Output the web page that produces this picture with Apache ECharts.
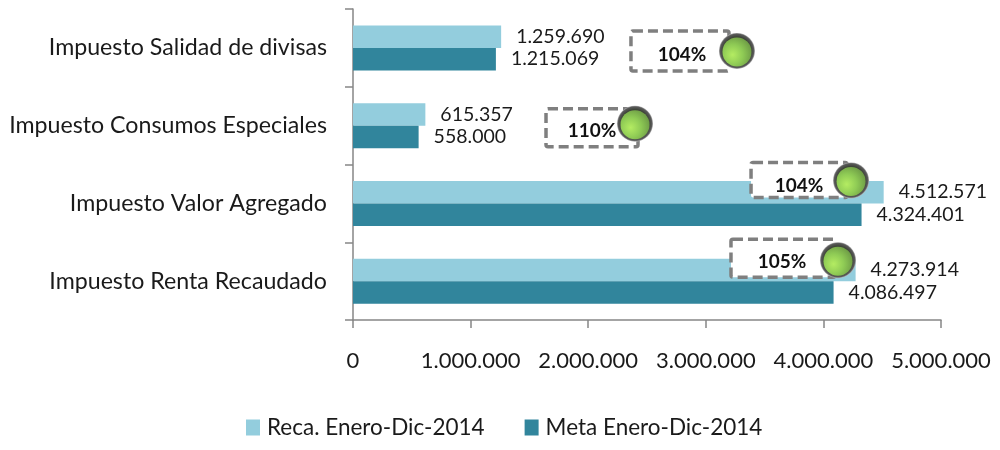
<!DOCTYPE html>
<html>
<head>
<meta charset="utf-8">
<title>Recaudación 2014</title>
<style>
  html, body { margin: 0; padding: 0; background: #fff; }
  #main { width: 1000px; height: 450px; }
</style>
<script src="https://cdn.jsdelivr.net/npm/echarts@6/dist/echarts.min.js"></script>
</head>
<body>
<div id="main"></div>
<script>
// bottom to top, same as the category axis
var categories = ['Impuesto Renta Recaudado', 'Impuesto Valor Agregado', 'Impuesto Consumos Especiales', 'Impuesto Salidad de divisas'];
var recaudado = [4273914, 4512571, 615357, 1259690];
var meta = [4086497, 4324401, 558000, 1215069];
var ticks = [0, 1000000, 2000000, 3000000, 4000000, 5000000];

// percent badges: text and where the green ball sits on the value axis
var badgeText = ['105%', '104%', '110%', '104%'];
var badgeValue = [4124000, 4235000, 2398000, 3265000];

// badge layout in px, relative to the ball / category centre
var ballDy = [-21, -23, -2, 3];
var boxLayout = [
  { x0: -107, x1: -3, y0: -21, y1: 17, tx: -56, ty: 2 },
  { x0: -100, x1: -4, y0: -18, y1: 17, tx: -52, ty: 5 },
  { x0: -89, x1: 3, y0: -15, y1: 23, tx: -43, ty: 7 },
  { x0: -106, x1: -8, y0: -20, y1: 20, tx: -55, ty: 4 }
];

var FONT = 'Lato';
var TEXT = '#1a1a1a';
var AXIS = '#868686';

function dots(v) {
  return String(v).replace(/\B(?=(\d{3})+$)/g, '.');
}

function renderBadge(params, api) {
  var i = params.dataIndex;
  var c = api.coord([api.value(0), api.value(1)]);
  var b = boxLayout[i];
  var cx = c[0], cy = c[1] + ballDy[i];
  return {
    type: 'group',
    children: [
      {
        type: 'rect',
        shape: { x: cx + b.x0, y: cy + b.y0, width: b.x1 - b.x0, height: b.y1 - b.y0, r: 2 },
        style: { fill: '#fff', stroke: '#7f7f7f', lineWidth: 3.5, lineDash: [10, 5] }
      },
      {
        type: 'text',
        style: {
          x: cx + b.tx, y: cy + b.ty, text: badgeText[i], align: 'center', verticalAlign: 'middle',
          fill: '#111', font: 'bold 19px ' + FONT
        }
      },
      {
        type: 'circle',
        shape: { cx: cx, cy: cy, r: 18 },
        style: {
          fill: new echarts.graphic.RadialGradient(0.5, 0.5, 0.5, [
            { offset: 0, color: '#4a5540' },
            { offset: 0.78, color: '#3f443a' },
            { offset: 0.93, color: '#5a5a5a' },
            { offset: 1, color: '#b4b4b4' }
          ])
        }
      },
      {
        type: 'circle',
        shape: { cx: cx, cy: cy + 1, r: 14.5 },
        style: {
          fill: new echarts.graphic.RadialGradient(0.35, 0.6, 0.7, [
            { offset: 0, color: '#b4ec62' },
            { offset: 0.5, color: '#8fcb55' },
            { offset: 1, color: '#6c9a45' }
          ])
        }
      }
    ]
  };
}

var barLabel = {
  show: true,
  position: 'right',
  distance: 15,
  color: TEXT,
  fontFamily: FONT,
  fontSize: 19.5,
  padding: [4, 0, 0, 0],
  formatter: function (p) { return dots(p.value); }
};

var chart = echarts.init(document.getElementById('main'));
chart.setOption({
  animation: false,
  textStyle: { fontFamily: FONT },
  legend: {
    left: 241,
    top: 411,
    itemWidth: 14,
    itemHeight: 16,
    itemGap: 40,
    icon: 'rect',
    textStyle: { color: TEXT, fontFamily: FONT, fontSize: 22.5, padding: [0, 0, 0, 2] },
    data: ['Reca. Enero-Dic-2014', 'Meta Enero-Dic-2014']
  },
  grid: { left: 353, right: 59, top: 9, bottom: 130 },
  xAxis: {
    type: 'value',
    min: 0,
    max: 5000000,
    interval: 1000000,
    splitLine: { show: false },
    axisLine: { show: true, lineStyle: { color: AXIS, width: 1.5 } },
    axisTick: { show: true, length: 8, lineStyle: { color: AXIS, width: 1.5 } },
    axisLabel: {
      margin: 30,
      color: TEXT,
      fontFamily: FONT,
      fontSize: 22,
      formatter: function (v) { return ticks.indexOf(v) >= 0 ? dots(v) : ''; }
    }
  },
  yAxis: {
    type: 'category',
    data: categories,
    axisLine: { show: true, lineStyle: { color: AXIS, width: 1.5 } },
    axisTick: { show: true, length: 8, lineStyle: { color: AXIS, width: 1.5 } },
    axisLabel: { margin: 26, color: TEXT, fontFamily: FONT, fontSize: 23.2, padding: [3, 0, 0, 0] }
  },
  series: [
    {
      name: 'Reca. Enero-Dic-2014',
      type: 'bar',
      data: recaudado,
      barWidth: 22.5,
      barGap: '0%',
      itemStyle: { color: '#93cddd' },
      label: barLabel
    },
    {
      name: 'Meta Enero-Dic-2014',
      type: 'bar',
      data: meta,
      barWidth: 22.5,
      itemStyle: { color: '#31859c' },
      label: barLabel
    },
    {
      name: 'badges',
      type: 'custom',
      renderItem: renderBadge,
      data: badgeValue.map(function (v, i) { return [v, i]; }),
      encode: { x: 0, y: 1 },
      silent: true,
      z: 5
    }
  ]
});
</script>
</body>
</html>
